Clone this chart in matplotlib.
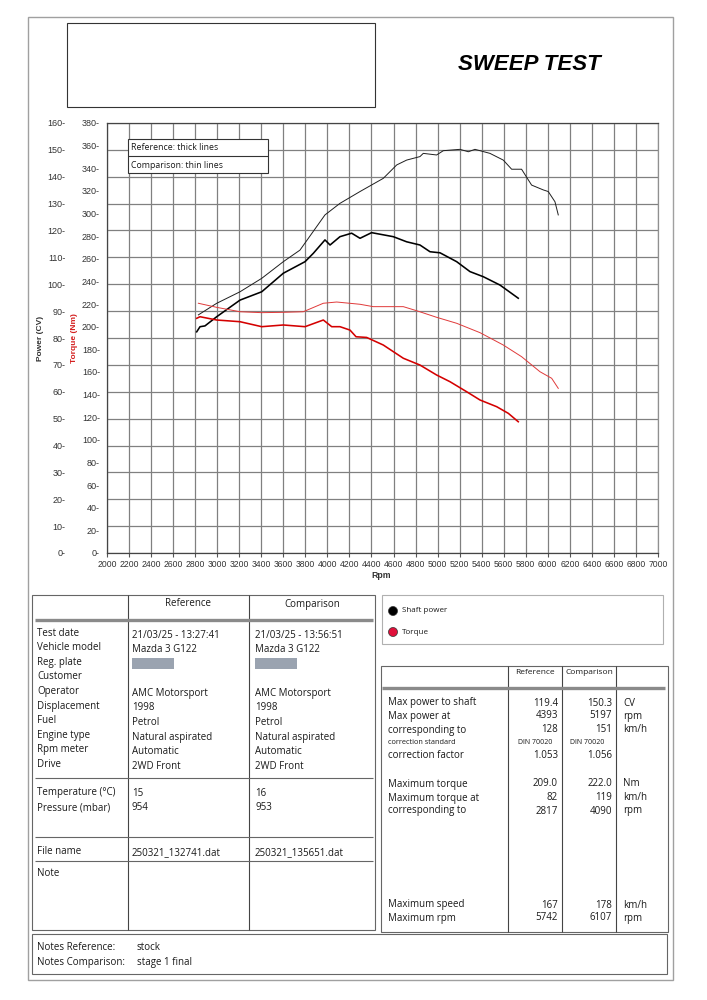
import matplotlib.pyplot as plt
from matplotlib.patches import Rectangle, Circle

# ---- curves ----
# reference run (thick lines)
ref_power_rpm = [2814, 2844, 2889, 2995, 3207, 3404, 3600, 3797, 3872, 3978, 4024, 4114, 4220,
                 4296, 4401, 4598, 4719, 4840, 4931, 5022, 5173, 5294, 5415, 5566, 5732]
ref_power = [82.3, 84.2, 84.5, 87.9, 94.1, 97.2, 104.1, 108.4, 111.5, 116.5, 114.6, 117.7, 119.0,
             117.1, 119.2, 117.7, 115.8, 114.6, 112.1, 111.7, 108.4, 104.7, 102.8, 99.7, 94.8]
ref_torque_rpm = [2814, 2844, 2995, 3207, 3404, 3600, 3797, 3963, 4039, 4114, 4205, 4260, 4356,
                  4507, 4689, 4840, 4991, 5112, 5264, 5385, 5536, 5642, 5732]
ref_torque = [207.4, 208.8, 205.9, 204.4, 200.0, 201.5, 200.0, 205.9, 200.0, 200.0, 197.0, 191.1, 190.5,
              183.8, 172.1, 166.1, 157.3, 151.4, 142.5, 135.2, 129.3, 123.4, 116.0]

# comparison run (thin lines)
cmp_power_rpm = [2829, 2995, 3207, 3404, 3600, 3751, 3978, 4114, 4296, 4507, 4629, 4719, 4840, 4870,
                 4991, 5052, 5203, 5279, 5339, 5475, 5596, 5672, 5762, 5853, 5959, 6004, 6065, 6095]
cmp_power = [88.6, 92.9, 97.2, 102.2, 108.4, 112.7, 125.8, 130.1, 134.5, 139.4, 144.4, 146.2, 147.5, 148.7,
             148.1, 149.7, 150.2, 149.3, 150.2, 148.7, 146.2, 142.8, 142.8, 136.9, 135.1, 134.5, 130.7, 125.8]
cmp_torque_rpm = [2829, 2995, 3207, 3404, 3600, 3781, 3963, 4084, 4296, 4416, 4689, 4810, 4991,
                  5173, 5385, 5596, 5762, 5929, 6035, 6095]
cmp_torque = [220.7, 217.1, 213.2, 212.4, 212.7, 213.2, 220.7, 221.8, 219.8, 217.7, 217.7, 214.1, 208.3,
              203.0, 194.7, 183.8, 173.5, 160.2, 154.4, 145.5]

rpm_ticks = list(range(2000, 7001, 200))
power_ticks = list(range(0, 161, 10))
torque_ticks = list(range(0, 381, 20))

# ---- table contents ----
info_labels = ["Test date", "Vehicle model", "Reg. plate", "Customer", "Operator",
               "Displacement", "Fuel", "Engine type", "Rpm meter", "Drive"]
info_ref = ["21/03/25 - 13:27:41", "Mazda 3 G122", "", "", "AMC Motorsport",
            "1998", "Petrol", "Natural aspirated", "Automatic", "2WD Front"]
info_cmp = ["21/03/25 - 13:56:51", "Mazda 3 G122", "", "", "AMC Motorsport",
            "1998", "Petrol", "Natural aspirated", "Automatic", "2WD Front"]
env_labels = ["Temperature (°C)", "Pressure (mbar)"]
env_ref = ["15", "954"]
env_cmp = ["16", "953"]
file_ref = "250321_132741.dat"
file_cmp = "250321_135651.dat"
note_ref = "stock"
note_cmp = "stage 1 final"

stat_labels = ["Max power to shaft", "Max power at", "corresponding to", "correction standard",
               "correction factor", "Maximum torque", "Maximum torque at", "corresponding to",
               "Maximum speed", "Maximum rpm"]
stat_ref = ["119.4", "4393", "128", "DIN 70020", "1.053", "209.0", "82", "2817", "167", "5742"]
stat_cmp = ["150.3", "5197", "151", "DIN 70020", "1.056", "222.0", "119", "4090", "178", "6107"]
stat_units = ["CV", "rpm", "km/h", "", "", "Nm", "km/h", "rpm", "km/h", "rpm"]

FONT = ['Open Sans', 'DejaVu Sans']
NARROW = ['Liberation Sans Narrow', 'Liberation Sans', 'DejaVu Sans']


def line(p, x0, y0, x1, y1, color="#555555", lw=0.8):
    p.plot([x0, x1], [y0, y1], color=color, lw=lw, solid_capstyle="butt")


def box(p, x0, y0, x1, y1, color="#555555", lw=0.8, fill=None):
    p.add_patch(Rectangle((x0, y0), x1 - x0, y1 - y0, fill=fill is not None,
                          fc=fill if fill else "none", ec=color, lw=lw))


def txt(p, x, y, s, size=7, ha="left", **kw):
    p.text(x, y, s, fontsize=size, ha=ha, va="center", family=FONT, color="#1a1a1a", **kw)


def main():
    fig = plt.figure(figsize=(7.07, 10), dpi=100)

    # ---- chart ----
    ax = fig.add_axes([107 / 707, 1 - 553 / 1000, 551 / 707, 430 / 1000])
    ax.set_xlim(2000, 7000)
    ax.set_ylim(0, 160)
    ax.set_xticks(rpm_ticks)
    ax.set_xticklabels([str(r) for r in rpm_ticks], family=NARROW, fontsize=6.2, color="#333333")
    ax.set_yticks(power_ticks)
    ax.set_yticklabels([f"{v}-" for v in power_ticks], family=NARROW, fontsize=6.5, color="#333333")
    ax.tick_params(axis="y", length=0, pad=30)
    ax.tick_params(axis="x", length=3, width=0.8, color="#555555", pad=2)
    ax.grid(True, color="#808080", lw=0.9)
    ax.set_axisbelow(True)
    for s in ax.spines.values():
        s.set_color("#444444")
        s.set_linewidth(0.9)
    ax.spines["right"].set_color("#909090")

    ax2 = ax.twinx()
    ax2.set_ylim(0, 380)
    ax2.set_yticks(torque_ticks)
    ax2.yaxis.tick_left()
    ax2.set_yticklabels([f"{v}-" for v in torque_ticks], family=NARROW, fontsize=6.5, color="#333333")
    ax2.tick_params(axis="y", length=0, pad=5)
    for s in ax2.spines.values():
        s.set_visible(False)

    ax.plot(cmp_power_rpm, cmp_power, color="#1e1e1e", lw=0.7)
    ax.plot(ref_power_rpm, ref_power, color="black", lw=1.15)
    ax2.plot(cmp_torque_rpm, cmp_torque, color="#e03a3a", lw=0.7)
    ax2.plot(ref_torque_rpm, ref_torque, color="#d40000", lw=1.15)

    # ---- page overlay in pixel coords ----
    p = fig.add_axes([0, 0, 1, 1], zorder=5)
    p.set_xlim(0, 707)
    p.set_ylim(1000, 0)
    p.axis("off")

    box(p, 28, 17, 673, 980, color="#a0a0a0", lw=1.0)
    box(p, 67, 23, 375, 107, color="#333333", lw=0.8)
    p.text(529, 65, "SWEEP TEST", fontsize=16, fontweight="bold", style="italic",
           family=['Liberation Sans', 'DejaVu Sans'], ha="center", va="center")

    p.text(40, 338, "Power (CV)", rotation=90, fontsize=6, fontweight="bold",
           family=['Liberation Sans', 'DejaVu Sans'], ha="center", va="center", color="#333333")
    p.text(75, 338, "Torque (Nm)", rotation=90, fontsize=6, fontweight="bold",
           family=['Liberation Sans', 'DejaVu Sans'], ha="center", va="center", color="#d42020")
    p.text(381, 576, "Rpm", fontsize=6.3, fontweight="bold",
           family=['Liberation Sans', 'DejaVu Sans'], ha="center", va="center", color="#333333")

    # legend inside chart
    box(p, 128, 139, 268, 173, color="#333333", lw=0.8, fill="white")
    line(p, 128, 156, 268, 156, color="#333333")
    txt(p, 131, 148, "Reference: thick lines", size=6.3)
    txt(p, 131, 165, "Comparison: thin lines", size=6.3)

    # ---- left info table ----
    box(p, 32, 595, 375, 930, color="#666666")
    line(p, 128, 595, 128, 930, color="#444444")
    line(p, 249, 595, 249, 930, color="#444444")
    txt(p, 188, 604, "Reference", ha="center")
    txt(p, 312, 604, "Comparison", ha="center")
    line(p, 35, 620, 373, 620, color="#8a8a8a", lw=2.4)
    for i, lab in enumerate(info_labels):
        y = 633 + i * 14.6
        txt(p, 37, y, lab)
        txt(p, 132, y + 2, info_ref[i])
        txt(p, 255, y + 2, info_cmp[i])
    p.add_patch(Rectangle((132, 658), 42, 11, fc="#9aa3b0", ec="none"))
    p.add_patch(Rectangle((255, 658), 42, 11, fc="#9aa3b0", ec="none"))
    line(p, 35, 778, 373, 778, color="#666666")
    for i, lab in enumerate(env_labels):
        y = 793 + i * 15
        txt(p, 37, y, lab)
        txt(p, 132, y, env_ref[i])
        txt(p, 255, y, env_cmp[i])
    line(p, 35, 837, 373, 837, color="#666666")
    txt(p, 37, 851, "File name")
    txt(p, 132, 853, file_ref)
    txt(p, 255, 853, file_cmp)
    line(p, 35, 861, 373, 861, color="#666666")
    txt(p, 37, 874, "Note")

    # notes box
    box(p, 32, 934, 667, 974, color="#666666")
    txt(p, 37, 947, "Notes Reference:")
    txt(p, 137, 947, note_ref)
    txt(p, 37, 963, "Notes Comparison:")
    txt(p, 137, 963, note_cmp)

    # ---- right legend ----
    box(p, 382, 595, 663, 644, color="#b0b0b0")
    p.add_patch(Circle((393, 611), 4.5, fc="black", ec="#333333", lw=0.5))
    p.add_patch(Circle((393, 632), 4.5, fc="#e0103a", ec="#333333", lw=0.5))
    txt(p, 402, 611, "Shaft power", size=5.8)
    txt(p, 402, 632, "Torque", size=5.8)

    # ---- right stats table ----
    box(p, 381, 666, 668, 932, color="#666666")
    for xd in (508, 562, 616):
        line(p, xd, 666, xd, 932, color="#444444")
    txt(p, 535, 673, "Reference", size=6, ha="center")
    txt(p, 589, 673, "Comparison", size=6, ha="center")
    line(p, 382, 688, 665, 688, color="#8a8a8a", lw=2.4)
    stat_y = [703, 716, 730, 743, 756, 784, 798, 811, 905, 918]
    for i, lab in enumerate(stat_labels):
        y = stat_y[i]
        if stat_ref[i].startswith("DIN"):
            txt(p, 388, y, lab, size=5.3)
            txt(p, 518, y, stat_ref[i], size=5)
            txt(p, 570, y, stat_cmp[i], size=5)
        else:
            txt(p, 388, y, lab)
            txt(p, 558, y, stat_ref[i], ha="right")
            txt(p, 612, y, stat_cmp[i], ha="right")
        txt(p, 623, y, stat_units[i])

    fig.savefig("out.png", dpi=100)


if __name__ == "__main__":
    main()
